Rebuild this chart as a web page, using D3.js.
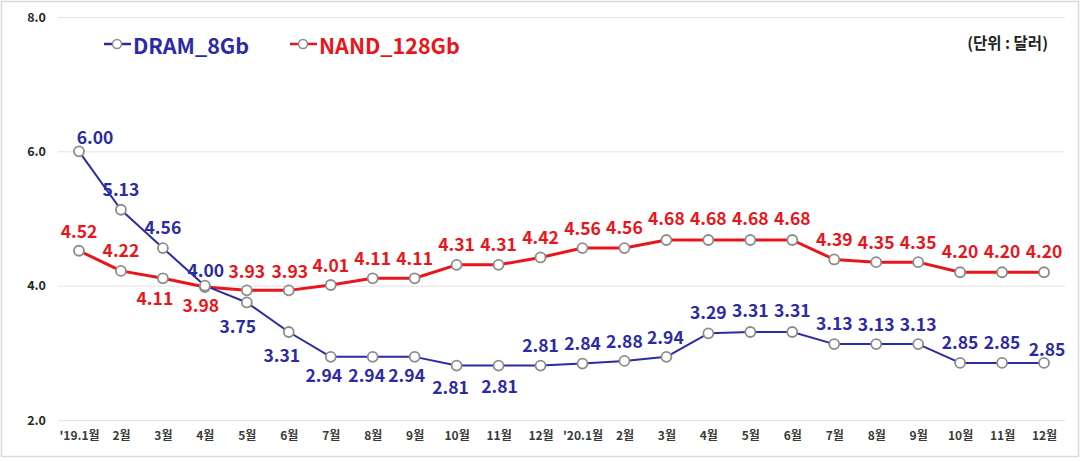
<!DOCTYPE html>
<html><head><meta charset="utf-8">
<script src="https://cdn.jsdelivr.net/npm/d3@7"></script>
<style>
html,body{margin:0;padding:0;background:#fff;}
svg{display:block;font-family:"Noto Sans CJK KR","Noto Sans",sans-serif;}
</style></head>
<body>
<svg id="chart" width="1087" height="461"></svg>
<script>
const months = ["'19.1월","2월","3월","4월","5월","6월","7월","8월","9월","10월","11월","12월",
                "'20.1월","2월","3월","4월","5월","6월","7월","8월","9월","10월","11월","12월"];
const dram = [6.00,5.13,4.56,4.00,3.75,3.31,2.94,2.94,2.94,2.81,2.81,2.81,
              2.84,2.88,2.94,3.29,3.31,3.31,3.13,3.13,3.13,2.85,2.85,2.85];
const nand = [4.52,4.22,4.11,3.98,3.93,3.93,4.01,4.11,4.11,4.31,4.31,4.42,
              4.56,4.56,4.68,4.68,4.68,4.68,4.39,4.35,4.35,4.20,4.20,4.20];
const yTicks = [2.0,4.0,6.0,8.0];
const seriesNames = ["DRAM_8Gb","NAND_128Gb"];
const unitLabel = "(단위 : 달러)";

// label offsets (dx, dy) relative to each point
const dramOffsets = [[16,-15],[0,-21],[0,-22],[1,-16],[-9,23],[-7,22],[-7,18],[-6,18],[-8,18],[-6,21],[1,20],[0,-21],
                     [0,-21],[0,-20],[-1,-20],[0,-22],[0,-23],[0,-23],[0,-22],[0,-21],[0,-21],[0,-21],[0,-21],[3,-14]];
const nandOffsets = [[0,-20],[0,-21],[-8,19],[-4,17],[0,-20],[1,-20],[0,-20],[0,-21],[0,-21],[0,-21],[0,-21],[0,-21],
                     [0,-21],[0,-22],[0,-22],[0,-22],[0,-22],[0,-22],[0,-21],[0,-21],[0,-21],[0,-22],[0,-22],[0,-22]];

const svg = d3.select("#chart");
svg.append("rect").attr("x",1.5).attr("y",1.5).attr("width",1077).attr("height",455)
  .attr("fill","#fff").attr("stroke","#d9d9d9").attr("stroke-width",1.5);

const x = d3.scalePoint().domain(d3.range(months.length)).range([58,1065]).padding(0.5);
const y = d3.scaleLinear().domain([2,8]).range([420,17]);

// gridlines
svg.append("g").selectAll("line").data(yTicks).join("line")
  .attr("x1",58).attr("x2",1065).attr("y1",d=>y(d)+0.5).attr("y2",d=>y(d)+0.5)
  .attr("stroke","#e3e3e3").attr("stroke-width",1);

// y axis
const yAxis = svg.append("g").attr("transform","translate(46,0)")
  .call(d3.axisLeft(y).tickValues(yTicks).tickFormat(d3.format(".1f")).tickSize(0).tickPadding(0));
yAxis.select(".domain").remove();
yAxis.selectAll("text").attr("font-size",12.5).attr("font-weight","bold").attr("fill","#262626")
  .attr("font-family","'Noto Sans CJK KR'");

// x axis
const xAxis = svg.append("g").attr("transform","translate(0,431)")
  .call(d3.axisBottom(x).tickFormat(i=>months[i]).tickSize(0).tickPadding(0));
xAxis.select(".domain").remove();
xAxis.selectAll("text").attr("font-size",12).attr("font-weight","bold").attr("fill","#3a3a3a")
  .attr("font-family","'Noto Sans CJK KR'");

const line = d3.line().x((d,i)=>x(i)).y(d=>y(d));
const series = [
  {vals:nand, color:"#e8161b", w:3, off:nandOffsets},
  {vals:dram, color:"#2b2ba3", w:2, off:dramOffsets}
];
series.forEach(s=>{
  svg.append("path").datum(s.vals).attr("d",line).attr("fill","none")
    .attr("stroke",s.color).attr("stroke-width",s.w).attr("stroke-linejoin","round");
});
series.forEach(s=>{
  svg.append("g").selectAll("circle").data(s.vals).join("circle")
    .attr("cx",(d,i)=>x(i)).attr("cy",d=>y(d)).attr("r",5)
    .attr("fill","#fff").attr("stroke","#8c8c8c").attr("stroke-width",1.8);
});
series.forEach(s=>{
  svg.append("g").selectAll("text").data(s.vals).join("text")
    .attr("x",(d,i)=>x(i)+s.off[i][0]).attr("y",(d,i)=>y(d)+s.off[i][1])
    .attr("text-anchor","middle").attr("dominant-baseline","central")
    .attr("font-size",17.5).attr("font-weight","bold").attr("fill",s.color)
    .text(d=>d.toFixed(2));
});

// legend
const legend = [{name:seriesNames[0], color:"#2b2ba3", x0:104}, {name:seriesNames[1], color:"#e8161b", x0:290}];
legend.forEach(l=>{
  const g = svg.append("g");
  g.append("line").attr("x1",l.x0).attr("x2",l.x0+27).attr("y1",44).attr("y2",44)
    .attr("stroke",l.color).attr("stroke-width",2.5);
  g.append("circle").attr("cx",l.x0+13).attr("cy",44).attr("r",4.5)
    .attr("fill","#fff").attr("stroke","#8c8c8c").attr("stroke-width",1.5);
  g.append("text").attr("x",l.x0+29).attr("y",44).attr("dominant-baseline","central")
    .attr("font-size",21.5).attr("font-weight","bold").attr("fill",l.color).text(l.name);
});

svg.append("text").attr("x",1048).attr("y",42).attr("text-anchor","end").attr("dominant-baseline","central")
  .attr("font-size",15.5).attr("font-weight","bold").attr("fill","#222").text(unitLabel);
</script>
</body></html>
